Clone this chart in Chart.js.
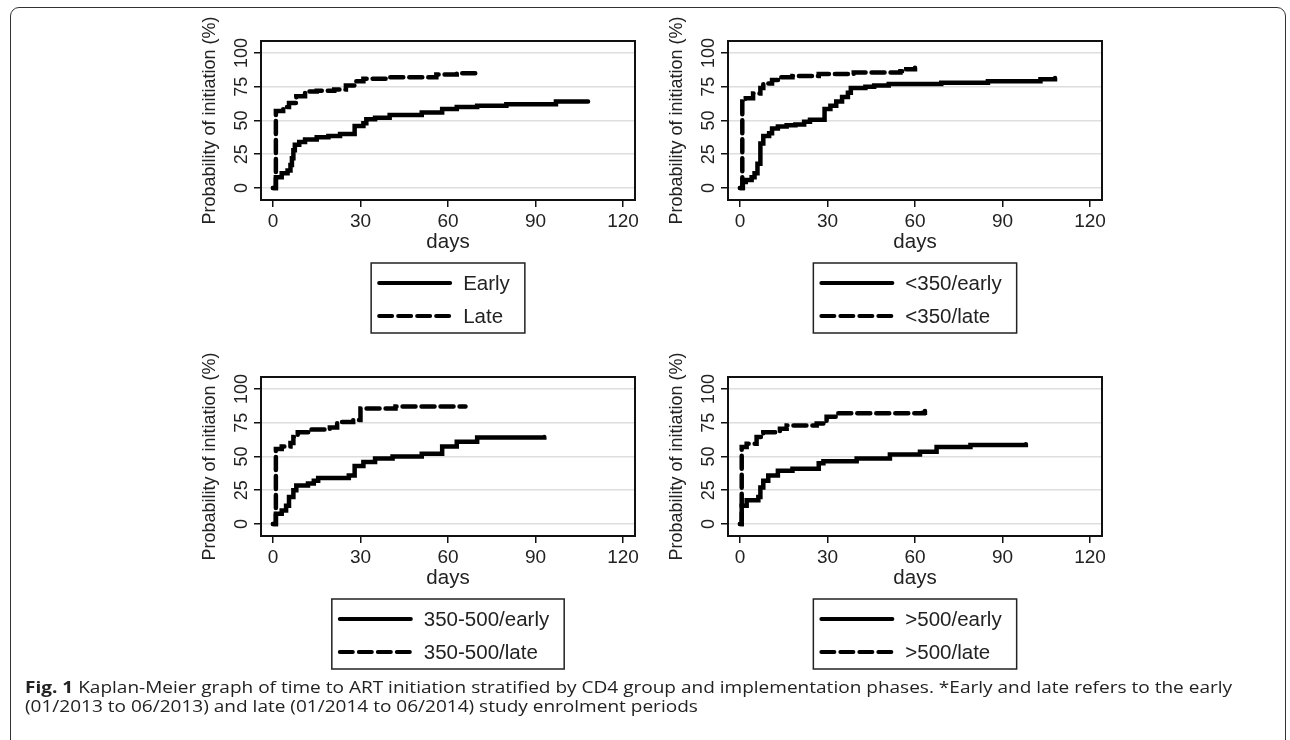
<!DOCTYPE html>
<html>
<head>
<meta charset="utf-8">
<script src="https://cdn.jsdelivr.net/npm/chart.js@4.4.1/dist/chart.umd.min.js"></script>
<style>
  html, body { margin: 0; padding: 0; background: #fff; }
  body { width: 1290px; height: 740px; position: relative; overflow: hidden; }
  .frame { position: absolute; left: 10px; top: 7px; width: 1276px; height: 745px;
           border: 1.5px solid #333; border-radius: 9px; box-sizing: border-box; }
  .panel { position: absolute; width: 467px; height: 330px; }
  .caption { position: absolute; left: 25px; top: 677px; width: 1068px;
             font-family: "Open Sans", sans-serif; font-size: 16.5px; line-height: 19px; color: #222;
             transform: scaleX(1.153); transform-origin: left top; }
  .caption b { font-weight: 700; }
</style>
</head>
<body>
<div class="frame"></div>
<div class="panel" style="left:190px;top:15px"><canvas id="p1"></canvas></div>
<div class="panel" style="left:657px;top:15px"><canvas id="p2"></canvas></div>
<div class="panel" style="left:190px;top:351px"><canvas id="p3"></canvas></div>
<div class="panel" style="left:657px;top:351px"><canvas id="p4"></canvas></div>
<div class="caption"><b>Fig. 1</b> Kaplan-Meier graph of time to ART initiation stratified by CD4 group and implementation phases. *Early and late refers to the early (01/2013 to 06/2013) and late (01/2014 to 06/2014) study enrolment periods</div>
<script>
// days / probability (%)
const xTicks = [0, 30, 60, 90, 120];
const yTicks = [0, 25, 50, 75, 100];

const allEarlyDays = [0, 1, 3, 5, 6, 6.5, 7, 7.5, 9, 11, 15, 19, 23, 28, 31, 32, 35, 40, 51, 58, 63, 70, 80, 97, 108];
const allEarlyProb = [0, 8, 11, 13, 17, 22, 28, 32, 34, 36, 37.5, 38.5, 40, 46, 48, 51, 52, 54, 56, 58.5, 60, 61, 62, 64, 64];
const allLateDays = [0, 1, 3.5, 5.5, 8, 11, 15, 21, 25, 28.5, 31, 40, 56, 63, 70];
const allLateProb = [0, 57, 60, 63, 68, 71.5, 72, 73, 76, 79, 81, 82, 84, 85, 85.5];

const lowEarlyDays = [0, 1, 2, 4, 5, 6, 7, 8, 10, 11, 13, 16, 19, 22, 24, 29, 31, 33, 35, 37, 38, 43, 46, 51, 69, 85, 103, 108];
const lowEarlyProb = [0, 4.5, 6, 8, 11, 18, 33, 38.5, 40.5, 44, 45.5, 46.5, 47, 49, 50.5, 58.5, 61, 64, 67.5, 70.5, 74, 75, 76, 77, 78, 79, 80.5, 81.5];
const lowLateDays = [0, 0.8, 2, 4.5, 7, 8, 11, 14, 18, 27, 39, 55, 57, 60];
const lowLateProb = [0, 64, 66.5, 70, 74, 77.5, 80, 82, 83, 84.5, 85.5, 86.5, 88, 89];

const midEarlyDays = [0, 1, 3, 4.5, 5.5, 7, 8, 12, 14, 15.5, 26, 28, 31, 35, 41, 51, 58, 63, 70, 93];
const midEarlyProb = [0, 7.5, 10, 13.5, 20, 25, 28.5, 30, 32, 34, 36, 43, 46, 48.5, 50, 52, 57.5, 61, 64, 64.5];
const midLateDays = [0, 1, 3, 6, 7, 8.5, 12.5, 19.5, 22, 27.5, 30, 42, 66];
const midLateProb = [0, 55.5, 57.5, 60, 64.5, 68, 70, 71.5, 75.5, 77, 85.5, 87, 87];

const highEarlyDays = [0, 0.6, 2.3, 6.3, 7, 8, 9.7, 13, 18, 27, 28.6, 40, 51.4, 61.7, 67.4, 79, 98];
const highEarlyProb = [0, 13.5, 17.5, 20, 27, 32, 36, 39.5, 41, 45, 46.5, 48.5, 51.5, 53.5, 57, 58.5, 59];
const highLateDays = [0, 0.6, 2.3, 5.7, 8, 13.7, 16, 26.3, 29.7, 33.7, 63, 63.4];
const highLateProb = [0, 57, 59.5, 64.5, 68, 70.5, 73, 74.5, 79.5, 82, 82.5, 84];

const FONT = "'Liberation Sans', Arial, sans-serif";
const DASH = [13, 6];

function pts(xs, ys) {
    return xs.map(function(x, i) { return {x: x, y: ys[i]}; });
}

// box round the plot region
const boxPlugin = {
    id: 'plotBox',
    afterDraw(chart) {
        const a = chart.chartArea, ctx = chart.ctx;
        ctx.save();
        ctx.strokeStyle = '#111';
        ctx.lineWidth = 2;
        ctx.strokeRect(a.left, a.top, a.right - a.left, a.bottom - a.top);
        ctx.restore();
    }
};

// Stata style legend: two rows in a box under the x title
const stataLegend = {
    id: 'stataLegend',
    afterDraw(chart) {
        const ctx = chart.ctx, a = chart.chartArea;
        const sets = chart.data.datasets;
        ctx.save();
        ctx.font = '20.5px ' + FONT;
        let tw = 0;
        sets.forEach(function(d) { tw = Math.max(tw, ctx.measureText(d.label).width); });
        const w = 7 + 72 + 13 + tw + 15, h = 70;
        const left = (a.left + a.right) / 2 - w / 2;
        const top = a.bottom + 63;
        ctx.strokeStyle = '#222';
        ctx.lineWidth = 1.5;
        ctx.strokeRect(left, top, w, h);
        sets.forEach(function(d, i) {
            const y = top + 20 + i * 33;
            ctx.strokeStyle = '#000';
            ctx.lineWidth = 4;
            ctx.lineCap = 'round';
            ctx.setLineDash(d.borderDash || []);
            ctx.beginPath();
            ctx.moveTo(left + 8, y);
            ctx.lineTo(left + 79, y);
            ctx.stroke();
            ctx.setLineDash([]);
            ctx.fillStyle = '#222';
            ctx.textBaseline = 'middle';
            ctx.fillText(d.label, left + 92, y + 1);
        });
        ctx.restore();
    }
};

function makePanel(id, labels, early, late) {
    const ctx = document.getElementById(id);
    new Chart(ctx, {
        type: 'line',
        data: {
            datasets: [
                {
                    label: labels[0],
                    data: early,
                    borderColor: '#000',
                    borderWidth: 4.5,
                    stepped: true,
                    pointRadius: 0,
                    borderCapStyle: 'round'
                },
                {
                    label: labels[1],
                    data: late,
                    borderColor: '#000',
                    borderWidth: 4.5,
                    borderDash: DASH,
                    stepped: true,
                    pointRadius: 0,
                    borderCapStyle: 'round'
                }
            ]
        },
        options: {
            responsive: true,
            maintainAspectRatio: false,
            animation: false,
            layout: { padding: { left: 0, right: 22, top: 26, bottom: 85 } },
            plugins: { legend: { display: false }, tooltip: { enabled: false } },
            scales: {
                x: {
                    type: 'linear',
                    min: -4.1,
                    max: 124.1,
                    afterBuildTicks: function(s) { s.ticks = xTicks.map(function(v) { return {value: v}; }); },
                    afterFit: function(s) { s.height = 60; },
                    grid: { drawOnChartArea: false, tickLength: 7, color: '#111', lineWidth: 1.5 },
                    border: { display: false },
                    ticks: { color: '#222', font: { family: FONT, size: 19 }, padding: 3, maxRotation: 0 },
                    title: { display: true, text: 'days', color: '#222', font: { family: FONT, size: 20.5 }, padding: { top: 0, bottom: 5 } }
                },
                y: {
                    min: -8.9,
                    max: 108.9,
                    afterBuildTicks: function(s) { s.ticks = yTicks.map(function(v) { return {value: v}; }); },
                    afterFit: function(s) { s.width = 71; },
                    grid: {
                        tickLength: 7,
                        color: '#dedede',
                        lineWidth: 1.5,
                        tickColor: '#111'
                    },
                    border: { display: false },
                    ticks: { color: '#222', font: { family: FONT, size: 18 }, minRotation: 90, maxRotation: 90, crossAlign: 'center', padding: -3 },
                    title: { display: true, text: 'Probability of initiation (%)', color: '#222', font: { family: FONT, size: 18 }, padding: { top: 9, bottom: 0 } }
                }
            }
        },
        plugins: [boxPlugin, stataLegend]
    });
}

makePanel('p1', ['Early', 'Late'], pts(allEarlyDays, allEarlyProb), pts(allLateDays, allLateProb));
makePanel('p2', ['<350/early', '<350/late'], pts(lowEarlyDays, lowEarlyProb), pts(lowLateDays, lowLateProb));
makePanel('p3', ['350-500/early', '350-500/late'], pts(midEarlyDays, midEarlyProb), pts(midLateDays, midLateProb));
makePanel('p4', ['>500/early', '>500/late'], pts(highEarlyDays, highEarlyProb), pts(highLateDays, highLateProb));
</script>
</body>
</html>
